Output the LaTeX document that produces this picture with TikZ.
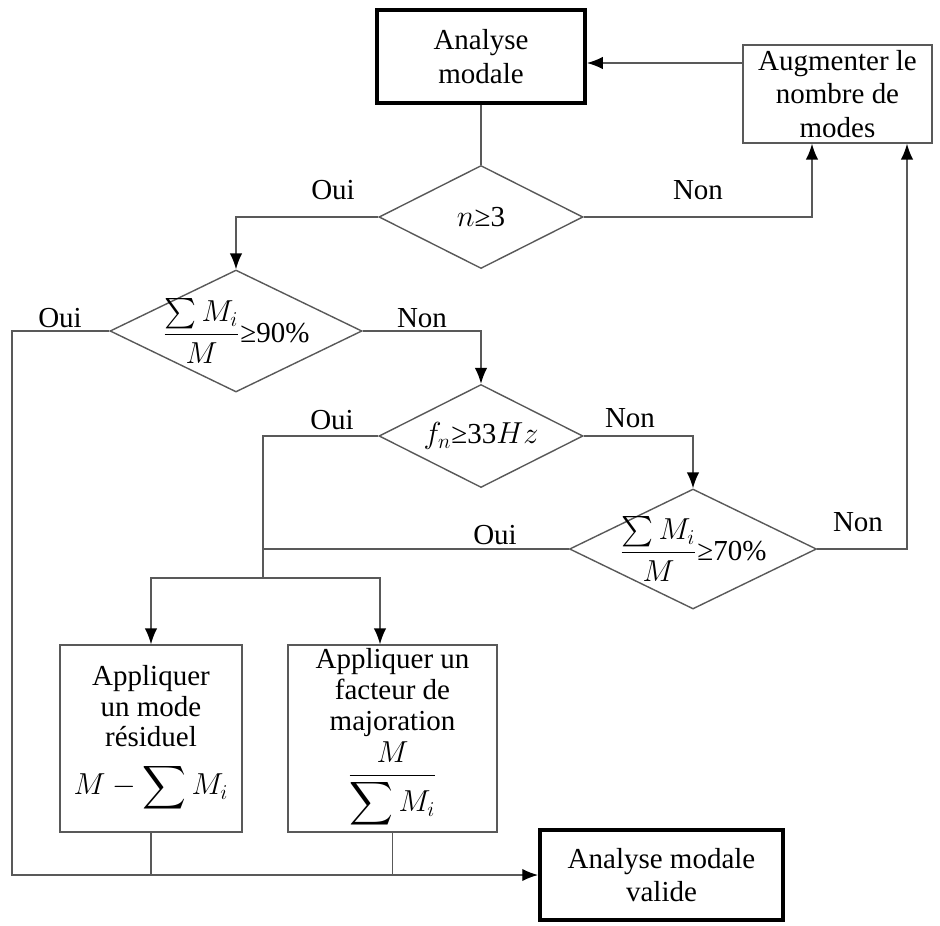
\documentclass[tikz,border=0pt]{standalone}
\usepackage{fontspec}
\usepackage{amsmath}
\setmainfont{Liberation Serif}
\usetikzlibrary{shapes.geometric,arrows.meta}
\begin{document}
\begin{tikzpicture}[>={Latex[length=9pt,width=7pt,color=black]},
  every node/.style={font=\fontsize{16.5}{19}\selectfont},
  line/.style={draw=black!65, line width=0.8pt},
  box/.style={draw=black!65, line width=0.8pt, align=center, inner sep=2pt},
  tallbox/.style={box, inner sep=0pt, minimum height=3.74cm, font=\fontsize{16.5}{17.5}\selectfont},
  mainbox/.style={draw=black, line width=2.2pt, align=center},
  decision/.style={diamond, draw=black!65, line width=0.8pt, inner sep=0pt, shape aspect=2}]
\useasboundingbox (0,0) rectangle (18.8,-18.5);
\node[mainbox, minimum width=4.16cm, minimum height=1.86cm] (am) at (9.62,-1.13) {Analyse\\modale};
\node[box, minimum width=3.78cm, minimum height=1.96cm] (aug) at (16.75,-1.88) {Augmenter le\\nombre de\\modes};
\node[decision, minimum width=4.08cm, minimum height=2.06cm] (d1) at (9.62,-4.34) {$n$≥3};
\node[decision, minimum width=5.04cm, minimum height=2.44cm,
  label=center:{$\dfrac{\sum M_i}{M}$≥90\%}] (d2) at (4.72,-6.62) {};
\node[decision, minimum width=4.08cm, minimum height=2.06cm] (d3) at (9.62,-8.72) {$f_n$≥33$Hz$};
\node[decision, minimum width=4.94cm, minimum height=2.4cm,
  label=center:{$\dfrac{\sum M_i}{M}$≥70\%}] (d4) at (13.86,-10.98) {};
\node[tallbox, minimum width=3.64cm] (r1) at (3.02,-14.77) {Appliquer\\un mode\\résiduel\\[8pt]$\displaystyle M-\sum M_i$};
\node[tallbox, minimum width=4.18cm] (r2) at (7.85,-14.77) {Appliquer un\\facteur de\\majoration\\[2pt]$\dfrac{M}{\displaystyle\sum M_i}$};
\node[mainbox, minimum width=4.86cm, minimum height=1.8cm] (ok) at (13.23,-17.5) {Analyse modale\\valide};
% labels
\node (o1) at (6.66,-3.8) {Oui};
\node (n1) at (13.96,-3.8) {Non};
\node (o2) at (1.2,-6.36) {Oui};
\node (n2) at (8.44,-6.36) {Non};
\node (o3) at (6.64,-8.4) {Oui};
\node (n3) at (12.6,-8.36) {Non};
\node (o4) at (9.9,-10.7) {Oui};
\node (n4) at (17.16,-10.44) {Non};
\coordinate (split) at (5.26,-11.56);
\coordinate (left) at (0.24,-6.62);
% connectors
\draw[line, ->] (aug.west |- 0,-1.26) -- (am.east |- 0,-1.26);
\draw[line] (am) -- (d1);
\draw[line, ->] (d1.east) -| ([xshift=-0.51cm]aug.south);
\draw[line, ->] (d1.west) -| (d2.north);
\draw[line, ->] (d2.east) -| (d3.north);
\draw[line, ->] (d3.east) -| (d4.north);
\draw[line, ->] (d4.east) -| ([xshift=1.39cm]aug.south);
\draw[line, ->] (d2.west) -- (left) |- (ok.west);
\draw[line] (d3.west) -| (split);
\draw[line] (d4.west) -- (d4.west -| split);
\draw[line, ->] (split) -| (r1.north);
\draw[line, ->] (split) -| ([xshift=-0.25cm]r2.north);
\draw[line] (r1.south) -- (r1.south |- ok.west);
\draw[line] (r2.south) -- (r2.south |- ok.west);
\end{tikzpicture}
\end{document}
